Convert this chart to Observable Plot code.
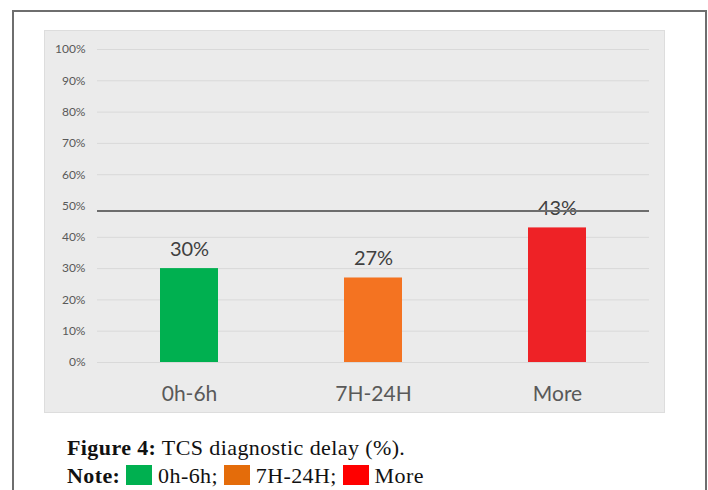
<!DOCTYPE html>
<html><head><meta charset="utf-8">
<script src="https://cdn.jsdelivr.net/npm/d3@7"></script>
<script src="https://cdn.jsdelivr.net/npm/@observablehq/plot@0.6"></script>
<style>
html,body{margin:0;padding:0;background:#fff}
body{width:708px;height:490px;overflow:hidden;position:relative}
#frame{position:absolute;left:12px;top:10px;width:691px;height:490px;border-left:2px solid #6e6e6e;border-top:2px solid #6e6e6e;border-right:2px solid #6e6e6e;box-sizing:content-box}
#panel{position:absolute;left:44px;top:30px;width:619px;height:381px;background:#ebebeb;border:1px solid #dddddd}
#panel svg{display:block}
#cap{position:absolute;left:67px;top:434px;font-family:"Liberation Serif",serif;font-size:22px;letter-spacing:0.4px;color:#111;line-height:28px;white-space:nowrap}
.sw{display:inline-block;width:26px;height:20px;vertical-align:-2px}
</style></head>
<body>
<div id="frame"></div>
<div id="panel"></div>
<div id="cap">
  <div><b>Figure 4:</b> TCS diagnostic delay (%).</div>
  <div id="note"></div>
</div>
<script>
const categories = ["0h-6h", "7H-24H", "More"];
const values = [30, 27, 43];
const barColors = ["#00b050", "#f47321", "#ee2226"];
const legendColors = ["#00b050", "#e46c0a", "#ff0000"];
const yTicks = [0, 10, 20, 30, 40, 50, 60, 70, 80, 90, 100];
const refValue = 48.4;

const data = categories.map((c, i) => ({category: c, value: values[i]}));

const chart = Plot.plot({
  width: 619, height: 381,
  marginLeft: 52, marginRight: 15, marginTop: 18, marginBottom: 50,
  style: {background: "transparent", fontFamily: "Lato, 'Open Sans', sans-serif", color: "#595959"},
  x: {domain: categories, paddingInner: 0.684, paddingOuter: 0.342, label: null},
  y: {domain: [0, 100], label: null},
  color: {domain: categories, range: barColors},
  marks: [
    Plot.gridY(yTicks.filter(t => t !== 50), {stroke: "#d9d9d9", strokeOpacity: 1, strokeWidth: 1}),
    Plot.axisY(yTicks, {tickSize: 0, tickPadding: 12, tickFormat: d => d + "%", fontSize: 12, fill: "#595959", label: null}),
    Plot.axisX({tickSize: 0, tickPadding: 24, fontSize: 21, fill: "#595959", label: null}),
    Plot.barY(data, {x: "category", y: "value", fill: "category"}),
    Plot.text(data, {x: "category", y: "value", text: d => d.value + "%", dy: -13, lineAnchor: "bottom", fontSize: 20, fill: "#404040"}),
    Plot.ruleY([refValue], {stroke: "#6d6d6d", strokeWidth: 2})
  ]
});
document.getElementById("panel").appendChild(chart);

const note = document.getElementById("note");
let html = "<b>Note:</b> ";
categories.forEach((c, i) => {
  html += `<span class="sw" style="background:${legendColors[i]}"></span> ${c}${i < categories.length - 1 ? "; " : ""}`;
});
note.innerHTML = html;
</script>
</body></html>
